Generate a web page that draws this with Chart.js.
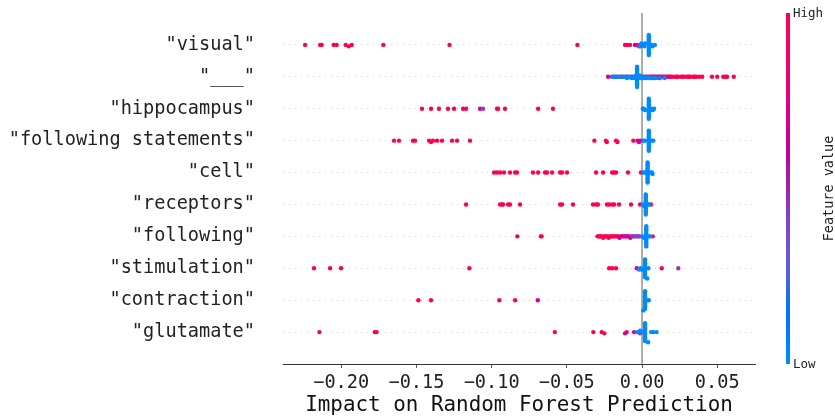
<!DOCTYPE html>
<html>
<head>
<meta charset="utf-8">
<script src="https://cdn.jsdelivr.net/npm/chart.js@4.4.0/dist/chart.umd.min.js"></script>
<style>
  body { margin: 0; background: #fff; }
  #chart { display: block; }
</style>
</head>
<body>
<canvas id="chart" width="835" height="418"></canvas>
<script>
// feature names, top to bottom
const features = ['"visual"', '"___"', '"hippocampus"', '"following statements"', '"cell"',
    '"receptors"', '"following"', '"stimulation"', '"contraction"', '"glutamate"'];

const xTicks = [-0.20, -0.15, -0.10, -0.05, 0.00, 0.05];
const xTickLabels = ['\u22120.20', '\u22120.15', '\u22120.10', '\u22120.05', '0.00', '0.05'];

// SHAP values per feature, grouped by how high the feature value was
// high feature value (red)
const highValues = [
    [-0.224, -0.214, -0.213, -0.205, -0.203, -0.197, -0.195, -0.193, -0.172, -0.128, -0.043, -0.0113, -0.010, -0.008],
    [0.006, 0.008, 0.010, 0.011, 0.012, 0.014, 0.015, 0.016, 0.018, 0.019, 0.020, 0.022, 0.023, 0.024, 0.026, 0.027,
     0.028, 0.030, 0.031, 0.032, 0.034, 0.035, 0.036, 0.038, 0.040, 0.0465, 0.050, 0.054, 0.0555, 0.0565, 0.061],
    [-0.1463, -0.1403, -0.1350, -0.1290, -0.1250, -0.1190, -0.1170, -0.0964, -0.0957, -0.0911, -0.0691, -0.0592],
    [-0.1649, -0.1616, -0.1523, -0.1509, -0.1416, -0.1403, -0.1390, -0.1363, -0.1330, -0.1263, -0.1230, -0.1144,
     -0.0317, -0.0241, -0.0234, -0.0173, -0.0164, -0.0058],
    [-0.0984, -0.0964, -0.0944, -0.0918, -0.0878, -0.0844, -0.0831, -0.0725, -0.0691, -0.0645, -0.0632, -0.0598,
     -0.0545, -0.0532, -0.0499, -0.0306, -0.0259, -0.0199, -0.0186, -0.0173, -0.0093, -0.0007],
    [-0.1170, -0.0944, -0.0931, -0.0924, -0.0891, -0.0878, -0.0811, -0.0545, -0.0532, -0.0459, -0.0326, -0.0306,
     -0.0293, -0.0233, -0.0219, -0.0199, -0.0186, -0.0153, -0.0073, -0.0013, 0.0060],
    [-0.0829, -0.0672, -0.0668, -0.0296, -0.0288, -0.0281, -0.0274, -0.0266, -0.0259, -0.0252, -0.0244, -0.0237,
     -0.0229, -0.0222, -0.0214, -0.0207, -0.0199, -0.0190, -0.0182, -0.0175, -0.0166, -0.0158, 0.0071],
    [-0.2181, -0.2074, -0.2001, -0.1148, -0.0219, -0.0199, -0.0173, 0.0131],
    [-0.1487, -0.1403, -0.0949, -0.0844],
    [-0.2145, -0.1777, -0.1765, -0.0580, -0.0324, -0.0268, -0.0251, -0.0102]
];
// fairly high (magenta)
const upperValues = [
    [-0.0047, -0.0033],
    [-0.0226, -0.018, -0.014, -0.010, -0.007, -0.004, -0.002, 0.001, 0.003, 0.005, 0.007, 0.009, 0.013, 0.017],
    [-0.1077],
    [-0.0030, -0.0020, -0.0012],
    [],
    [],
    [-0.0150, -0.0142, -0.0134, -0.0126, -0.0118, -0.0110, -0.0102, -0.0094, -0.0086, -0.0078, -0.0070],
    [-0.0035],
    [-0.0693],
    [-0.0113, -0.0053]
];
// middling (purple)
const middleValues = [
    [-0.0020, -0.0007],
    [-0.020, -0.016, -0.013, -0.011, -0.009, -0.006, -0.005, -0.003, -0.001, 0.000, 0.002, 0.004, 0.006, 0.008, 0.011],
    [-0.1057],
    [],
    [],
    [],
    [-0.0062, -0.0054, -0.0046, -0.0038, -0.0030, -0.0022, -0.0014],
    [0.0241],
    [],
    [-0.0025, -0.0013]
];
// low feature value (blue)
const lowValues = [
    [0.0045, 0.0045, 0.0045, 0.0045, 0.0045, 0.0045, 0.0045, 0.0045, 0.0045, 0.0045, 0.0045, 0.0045, 0.0045, 0.0045, 0.0045,
     -0.0010, -0.0005, 0.0010, 0.0015, 0.0020, 0.0065, 0.0070, 0.0085],
    [-0.0033, -0.0033, -0.0033, -0.0033, -0.0033, -0.0033, -0.0033, -0.0033, -0.0033, -0.0033, -0.0033, -0.0033, -0.0033, -0.0033, -0.0033, -0.0033,
     -0.019, -0.017, -0.015, -0.012, -0.010, -0.008, -0.007, -0.006, -0.005, -0.0045, -0.004, -0.0025, -0.002, -0.0015,
     -0.001, 0.000, 0.001, 0.002, 0.003, 0.005, 0.007, 0.009, 0.012, 0.015],
    [0.0045, 0.0045, 0.0045, 0.0045, 0.0045, 0.0045, 0.0045, 0.0045, 0.0045, 0.0045, 0.0045, 0.0045, 0.0045, 0.0045, 0.0045,
     0.0005, 0.0012, 0.0020, 0.0060, 0.0070, 0.0080],
    [0.0045, 0.0045, 0.0045, 0.0045, 0.0045, 0.0045, 0.0045, 0.0045, 0.0045, 0.0045, 0.0045, 0.0045, 0.0045, 0.0045, 0.0045,
     0.0010, 0.0020, 0.0065, 0.0075],
    [0.0037, 0.0037, 0.0037, 0.0037, 0.0037, 0.0037, 0.0037, 0.0037, 0.0037, 0.0037, 0.0037, 0.0037, 0.0037, 0.0037, 0.0037,
     0.0010, 0.0020, 0.0055, 0.0065, 0.0070],
    [0.0025, 0.0025, 0.0025, 0.0025, 0.0025, 0.0025, 0.0025, 0.0025, 0.0025, 0.0025, 0.0025, 0.0025, 0.0025, 0.0025, 0.0025,
     0.0005, 0.0012, 0.0040, 0.0050],
    [0.0028, 0.0028, 0.0028, 0.0028, 0.0028, 0.0028, 0.0028, 0.0028, 0.0028, 0.0028, 0.0028, 0.0028, 0.0028, 0.0028, 0.0028,
     0.0005, 0.0012, 0.0045, 0.0055],
    [0.0020, 0.0020, 0.0020, 0.0020, 0.0020, 0.0020, 0.0020, 0.0020, 0.0020, 0.0020, 0.0020, 0.0020, 0.0020, 0.0020, 0.0020,
     -0.0020, -0.0010, 0.0000, 0.0035, 0.0042],
    [0.0020, 0.0020, 0.0020, 0.0020, 0.0020, 0.0020, 0.0020, 0.0020, 0.0020, 0.0020, 0.0020, 0.0020, 0.0020, 0.0020, 0.0020,
     0.0008, 0.0032, 0.0045],
    [0.0020, 0.0020, 0.0020, 0.0020, 0.0020, 0.0020, 0.0020, 0.0020, 0.0020, 0.0020, 0.0020, 0.0020, 0.0020, 0.0020, 0.0020,
     -0.0030, -0.0012, 0.0000, 0.0040, 0.0060, 0.0075, 0.0097]
];

const FONT = '"DejaVu Sans Mono", monospace';

// SHAP's red_blue colormap: walk in LCH from blue to red, lightness dips to 40 in the middle
function shapColor(t) {
    const L = t < 0.5 ? 54 - 28 * t : 40 + 28 * (t - 0.5);
    const C = 70 + 20 * t;
    const H = 4.6588 + (0.35470565 + 2 * Math.PI - 4.6588) * t;
    const a = C * Math.cos(H), b = C * Math.sin(H);
    const fy = (L + 16) / 116, fx = fy + a / 500, fz = fy - b / 200;
    const finv = f => f > 6 / 29 ? f * f * f : 3 * (6 / 29) * (6 / 29) * (f - 4 / 29);
    const X = 0.95047 * finv(fx), Y = finv(fy), Z = 1.08883 * finv(fz);
    const lin = [3.2406 * X - 1.5372 * Y - 0.4986 * Z,
                 -0.9689 * X + 1.8758 * Y + 0.0415 * Z,
                 0.0557 * X - 0.2040 * Y + 1.0570 * Z];
    const rgb = lin.map(c => {
        c = Math.min(1, Math.max(0, c));
        c = c <= 0.0031308 ? 12.92 * c : 1.055 * Math.pow(c, 1 / 2.4) - 0.055;
        return Math.round(c * 255);
    });
    return 'rgb(' + rgb.join(',') + ')';
}

// same binning trick shap uses to spread the dots of one row up and down
function swarmOffsets(vals) {
    const nbins = 100;
    const mn = Math.min(...vals), mx = Math.max(...vals);
    const quant = vals.map(v => Math.round(nbins * (v - mn) / (mx - mn + 1e-8)));
    const inds = vals.map((_, i) => i).sort((p, q) => quant[p] - quant[q] || p - q);
    const ys = new Array(vals.length).fill(0);
    let layer = 0, last = -1;
    inds.forEach(i => {
        if (quant[i] !== last) layer = 0;
        ys[i] = Math.ceil(layer / 2) * ((layer % 2) * 2 - 1);
        layer++;
        last = quant[i];
    });
    const m = Math.max(...ys.map(y => y + 1));
    return ys.map(y => y * 0.9 * (0.4 / m));
}

const points = [], colors = [];
features.forEach((f, row) => {
    const vals = [], fv = [];
    [[highValues, 1.0], [upperValues, 0.72], [middleValues, 0.42], [lowValues, 0.0]].forEach(([grp, level]) => {
        grp[row].forEach(v => { vals.push(v); fv.push(level); });
    });
    const offs = swarmOffsets(vals);
    vals.forEach((v, i) => {
        points.push({ x: v, y: row + offs[i] });
        colors.push(shapColor(fv[i]));
    });
});

const colorbar = {
    id: 'colorbar',
    afterDraw: (chart) => {
        const ctx = chart.ctx;
        const top = chart.chartArea.top, bottom = chart.chartArea.bottom;
        ctx.save();
        const g = ctx.createLinearGradient(0, bottom, 0, top);
        for (let i = 0; i <= 20; i++) g.addColorStop(i / 20, shapColor(i / 20));
        ctx.fillStyle = g;
        ctx.fillRect(786, top, 4, bottom - top);
        ctx.fillStyle = '#222';
        ctx.font = '12.5px ' + FONT;
        ctx.textBaseline = 'middle';
        ctx.textAlign = 'left';
        ctx.fillText('High', 793, top + 1);
        ctx.fillText('Low', 793, bottom + 1);
        ctx.translate(829, (top + bottom) / 2);
        ctx.rotate(-Math.PI / 2);
        ctx.textAlign = 'center';
        ctx.font = '13.5px ' + FONT;
        ctx.fillText('Feature value', 0, 0);
        ctx.restore();
    }
};

const ctx = document.getElementById('chart').getContext('2d');
new Chart(ctx, {
    type: 'scatter',
    data: {
        datasets: [{
            type: 'line',
            data: [{ x: 0, y: -1 }, { x: 0, y: 10 }],
            borderColor: '#999999',
            borderWidth: 1.6,
            pointRadius: 0,
            order: 2
        }, {
            data: points,
            pointBackgroundColor: colors,
            pointRadius: 2.2,
            pointBorderWidth: 0,
            order: 1
        }]
    },
    options: {
        responsive: false,
        animation: false,
        layout: { padding: { top: 13, right: 80, left: 0, bottom: 0 } },
        plugins: { legend: { display: false }, tooltip: { enabled: false } },
        scales: {
            x: {
                type: 'linear',
                min: -0.2387,
                max: 0.0751,
                afterBuildTicks: (s) => { s.ticks = xTicks.map(v => ({ value: v })); },
                afterFit: (s) => { s.height = 54; s.paddingLeft = 0; s.paddingRight = 0; },
                ticks: {
                    callback: (v, i) => xTickLabels[i],
                    font: { family: FONT, size: 18.6 },
                    color: '#222',
                    padding: 4,
                    maxRotation: 0,
                    autoSkip: false
                },
                grid: { drawOnChartArea: false, drawTicks: true, tickLength: 4, color: '#333', lineWidth: 0.8 },
                border: { display: true, color: '#333', width: 1 },
                title: {
                    display: true,
                    text: 'Impact on Random Forest Prediction',
                    font: { family: FONT, size: 20.9 },
                    color: '#111',
                    padding: { top: 0, bottom: 0 }
                }
            },
            y: {
                type: 'linear',
                min: -1,
                max: 10,
                reverse: true,
                afterBuildTicks: (s) => { s.ticks = features.map((f, i) => ({ value: i })); },
                afterFit: (s) => { s.width = 283; s.paddingTop = 0; s.paddingBottom = 0; },
                ticks: {
                    callback: (v) => features[v],
                    font: { family: FONT, size: 18.6 },
                    color: '#222',
                    padding: 28,
                    autoSkip: false
                },
                grid: { color: '#cccccc', lineWidth: 0.8, drawTicks: false },
                border: { display: false, dash: [1, 5] }
            }
        }
    },
    plugins: [colorbar]
});
</script>
</body>
</html>
